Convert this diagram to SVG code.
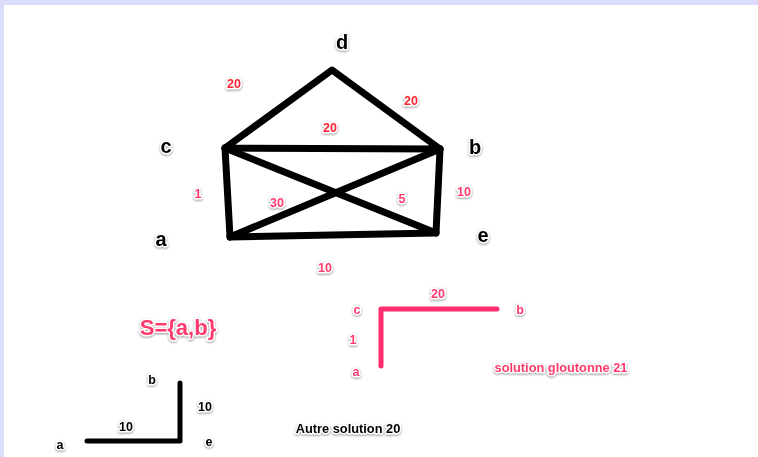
<svg xmlns="http://www.w3.org/2000/svg" width="758" height="457" viewBox="0 0 758 457">
<style>
text{font-family:"Liberation Sans",Arial,sans-serif;font-weight:bold;text-anchor:middle;paint-order:stroke;stroke:#fff;stroke-width:3px;stroke-linejoin:round;filter:url(#sh)}
.big{font-size:20px;fill:#000}
.sm{font-size:12.5px}
.r{fill:#ff2230}
.p{fill:#ff3a6e}
.k{fill:#000}
.edge{stroke:#000;stroke-width:7;stroke-linecap:round;stroke-linejoin:round;fill:none}
.pink{stroke:#ff2d6b;stroke-width:5;stroke-linecap:round;stroke-linejoin:round;fill:none}
.blk{stroke:#000;stroke-width:5;stroke-linecap:round;stroke-linejoin:round;fill:none}
</style>
<defs>
<filter id="sh" x="-30%" y="-30%" width="160%" height="160%">
<feDropShadow dx="0" dy="1" stdDeviation="0.8" flood-color="#777" flood-opacity="0.8"/>
</filter>
</defs>
<rect width="758" height="457" fill="#dcdcfc"/>
<rect x="4" y="5" width="754" height="452" fill="#fff"/>
<g id="connectors">
<path class="edge" d="M225,148 L332,70 L440,149 Z"/>
<path class="edge" d="M225,148 L230,237 L436,233 L440,149"/>
<path class="edge" d="M225,148 L436,233"/>
<path class="edge" d="M440,149 L230,237"/>
<path class="pink" d="M381,366 L381,309 L497,309"/>
<path class="blk" d="M87,441 L180,441 L180,383"/>
</g>
<g id="node-d"><text class="big" x="342" y="49">d</text></g>
<g id="node-c"><text class="big" x="166" y="153">c</text></g>
<g id="node-b"><text class="big" x="475" y="154">b</text></g>
<g id="node-a"><text class="big" x="161" y="246">a</text></g>
<g id="node-e"><text class="big" x="483" y="242">e</text></g>
<g id="labels">
<text class="sm r" x="234" y="88">20</text>
<text class="sm r" x="411" y="105">20</text>
<text class="sm r" x="330" y="132">20</text>
<text class="sm p" x="198" y="198">1</text>
<text class="sm p" x="277" y="207">30</text>
<text class="sm p" x="402" y="203">5</text>
<text class="sm p" x="464" y="196">10</text>
<text class="sm p" x="325" y="272">10</text>
</g>
<g id="set"><text class="p" x="178" y="335" style="font-size:22px">S={a,b}</text></g>
<g id="greedy">
<text class="sm p" x="357" y="314">c</text>
<text class="sm p" x="438" y="298">20</text>
<text class="sm p" x="520" y="314">b</text>
<text class="sm p" x="353" y="344">1</text>
<text class="sm p" x="356" y="376">a</text>
<text class="p" x="561" y="372" style="font-size:12.8px">solution gloutonne 21</text>
</g>
<g id="other">
<text class="sm k" x="152" y="384">b</text>
<text class="sm k" x="205" y="411">10</text>
<text class="sm k" x="126" y="431">10</text>
<text class="sm k" x="60" y="449">a</text>
<text class="sm k" x="209" y="446">e</text>
<text class="k" x="348" y="433" style="font-size:12.8px">Autre solution 20</text>
</g>
</svg>
